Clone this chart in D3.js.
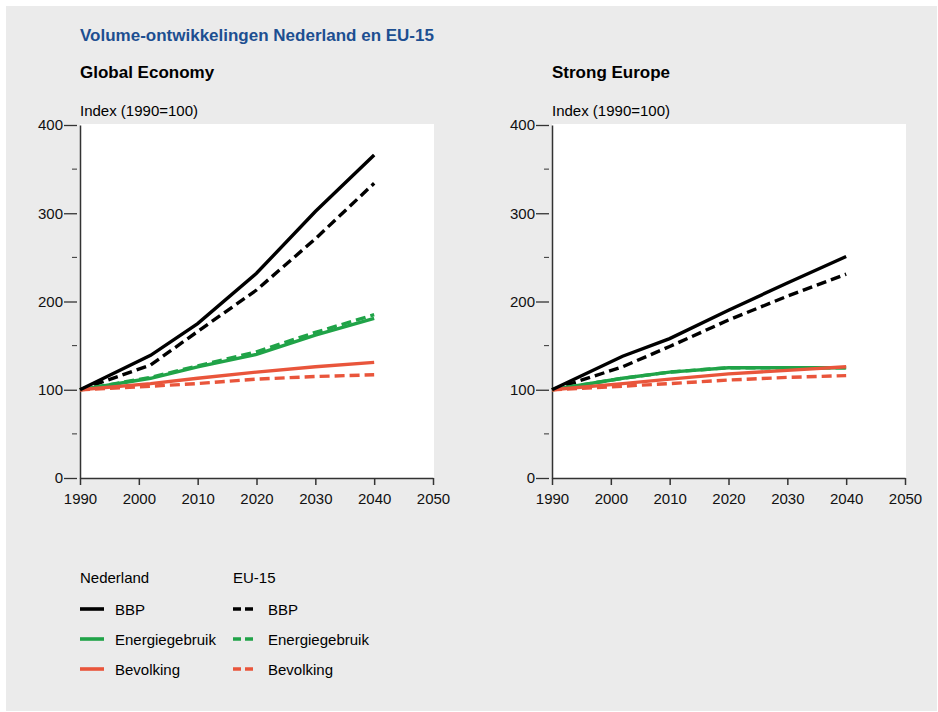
<!DOCTYPE html>
<html>
<head>
<meta charset="utf-8">
<script src="https://cdn.jsdelivr.net/npm/d3@7"></script>
<style>
  body { margin: 0; background: #fff; }
  svg { display: block; font-family: "Liberation Sans", Arial, sans-serif; }
  .axis path, .axis line { stroke: #333; }
  .axis text { font-size: 15px; fill: #111; }
</style>
</head>
<body>
<div id="chart"></div>
<script>
// data
const years = [1990, 2002, 2010, 2020, 2030, 2040];
const yTicks = [0, 100, 200, 300, 400];
const yMinorTicks = [50, 150, 250, 350];
const xTicks = [1990, 2000, 2010, 2020, 2030, 2040, 2050];

// Global Economy
const nlBbpGE = [100, 139, 175, 232, 302, 366];
const euBbpGE = [100, 128, 166, 213, 271, 334];
const nlEnergieGE = [100, 113, 126, 140, 162, 181];
const euEnergieGE = [100, 114, 127, 143, 165, 185];
const nlBevolkingGE = [100, 107, 113, 120, 126, 131];
const euBevolkingGE = [100, 104, 107, 112, 115, 117];

// Strong Europe
const nlBbpSE = [100, 138, 158, 190, 221, 251];
const euBbpSE = [100, 126, 149, 179, 206, 231];
const nlEnergieSE = [100, 113, 120, 125, 125, 125];
const euEnergieSE = [100, 113, 120, 125, 125, 125];
const nlBevolkingSE = [100, 107, 112, 118, 122, 126];
const euBevolkingSE = [100, 104, 107, 111, 114, 116];

const colors = { bbp: '#000000', energie: '#20a348', bevolking: '#e9553b' };
const dash = '10,5';

const width = 938;
const height = 712;

const svg = d3.select('#chart')
  .append('svg')
    .attr('width', width)
    .attr('height', height);

svg.append('rect')
  .attr('x', 6).attr('y', 6)
  .attr('width', 931).attr('height', 705)
  .attr('fill', '#ebebeb');

svg.append('text')
  .attr('x', 80).attr('y', 41)
  .attr('fill', '#1d4f91')
  .attr('font-size', 17)
  .attr('font-weight', 'bold')
  .text('Volume-ontwikkelingen Nederland en EU-15');

function drawPanel(left, title, series) {
  const x = d3.scaleLinear().domain([1990, 2050]).range([left, left + 353]);
  const y = d3.scaleLinear().domain([0, 400]).range([478, 125]);

  svg.append('text')
    .attr('x', left).attr('y', 78)
    .attr('font-size', 17)
    .attr('font-weight', 'bold')
    .text(title);

  svg.append('text')
    .attr('x', left).attr('y', 116)
    .attr('font-size', 15)
    .text('Index (1990=100)');

  svg.append('rect')
    .attr('x', left).attr('y', 124)
    .attr('width', 354).attr('height', 354)
    .attr('fill', '#fff');

  // y axis
  const yAxis = svg.append('g')
    .attr('class', 'axis')
    .attr('transform', `translate(${left},0)`)
    .call(d3.axisLeft(y).tickValues(yTicks).tickSize(0).tickPadding(17));
  yAxis.select('.domain').attr('stroke-width', 1.5);
  yAxis.selectAll('.tick line').attr('x1', -3).attr('x2', -16).attr('stroke-width', 1.3);

  svg.append('g')
    .attr('class', 'axis')
    .selectAll('line')
    .data(yMinorTicks)
    .join('line')
      .attr('x1', left - 3).attr('x2', left - 8)
      .attr('y1', d => y(d)).attr('y2', d => y(d))
      .attr('stroke', '#555');

  // x axis
  const xAxis = svg.append('g')
    .attr('class', 'axis')
    .attr('transform', 'translate(0,478)')
    .call(d3.axisBottom(x).tickValues(xTicks).tickFormat(d3.format('d')).tickSize(7).tickSizeOuter(0).tickPadding(8));
  xAxis.select('.domain').attr('stroke-width', 1.5);
  xAxis.selectAll('.tick line').attr('stroke-width', 1.5);

  const line = d3.line()
    .x((d, i) => x(years[i]))
    .y(d => y(d));

  const plot = svg.append('g');
  plot.selectAll('path')
    .data(series)
    .join('path')
      .attr('d', d => line(d.values))
      .attr('fill', 'none')
      .attr('stroke', d => colors[d.key])
      .attr('stroke-width', 3.4)
      .attr('stroke-dasharray', d => d.dashed ? dash : null);
}

drawPanel(80, 'Global Economy', [
  { key: 'bbp', dashed: true, values: euBbpGE },
  { key: 'energie', dashed: false, values: nlEnergieGE },
  { key: 'energie', dashed: true, values: euEnergieGE },
  { key: 'bevolking', dashed: true, values: euBevolkingGE },
  { key: 'bevolking', dashed: false, values: nlBevolkingGE },
  { key: 'bbp', dashed: false, values: nlBbpGE }
]);

drawPanel(552, 'Strong Europe', [
  { key: 'bbp', dashed: true, values: euBbpSE },
  { key: 'energie', dashed: true, values: euEnergieSE },
  { key: 'energie', dashed: false, values: nlEnergieSE },
  { key: 'bevolking', dashed: true, values: euBevolkingSE },
  { key: 'bevolking', dashed: false, values: nlBevolkingSE },
  { key: 'bbp', dashed: false, values: nlBbpSE }
]);

// legend
const legendGroups = ['Nederland', 'EU-15'];
const legendItems = [
  { key: 'bbp', label: 'BBP' },
  { key: 'energie', label: 'Energiegebruik' },
  { key: 'bevolking', label: 'Bevolking' }
];
const legend = svg.append('g').attr('font-size', 15);

legendGroups.forEach((name, gi) => {
  const lx = 80 + gi * 153;
  legend.append('text')
    .attr('x', lx).attr('y', 583)
    .text(name);
  legendItems.forEach((item, i) => {
    const ly = 609 + i * 30;
    legend.append('line')
      .attr('x1', lx).attr('x2', lx + 24)
      .attr('y1', ly).attr('y2', ly)
      .attr('stroke', colors[item.key])
      .attr('stroke-width', 3.6)
      .attr('stroke-dasharray', gi === 1 ? '8,4' : null);
    legend.append('text')
      .attr('x', lx + 35).attr('y', ly + 5.5)
      .text(item.label);
  });
});
</script>
</body>
</html>
